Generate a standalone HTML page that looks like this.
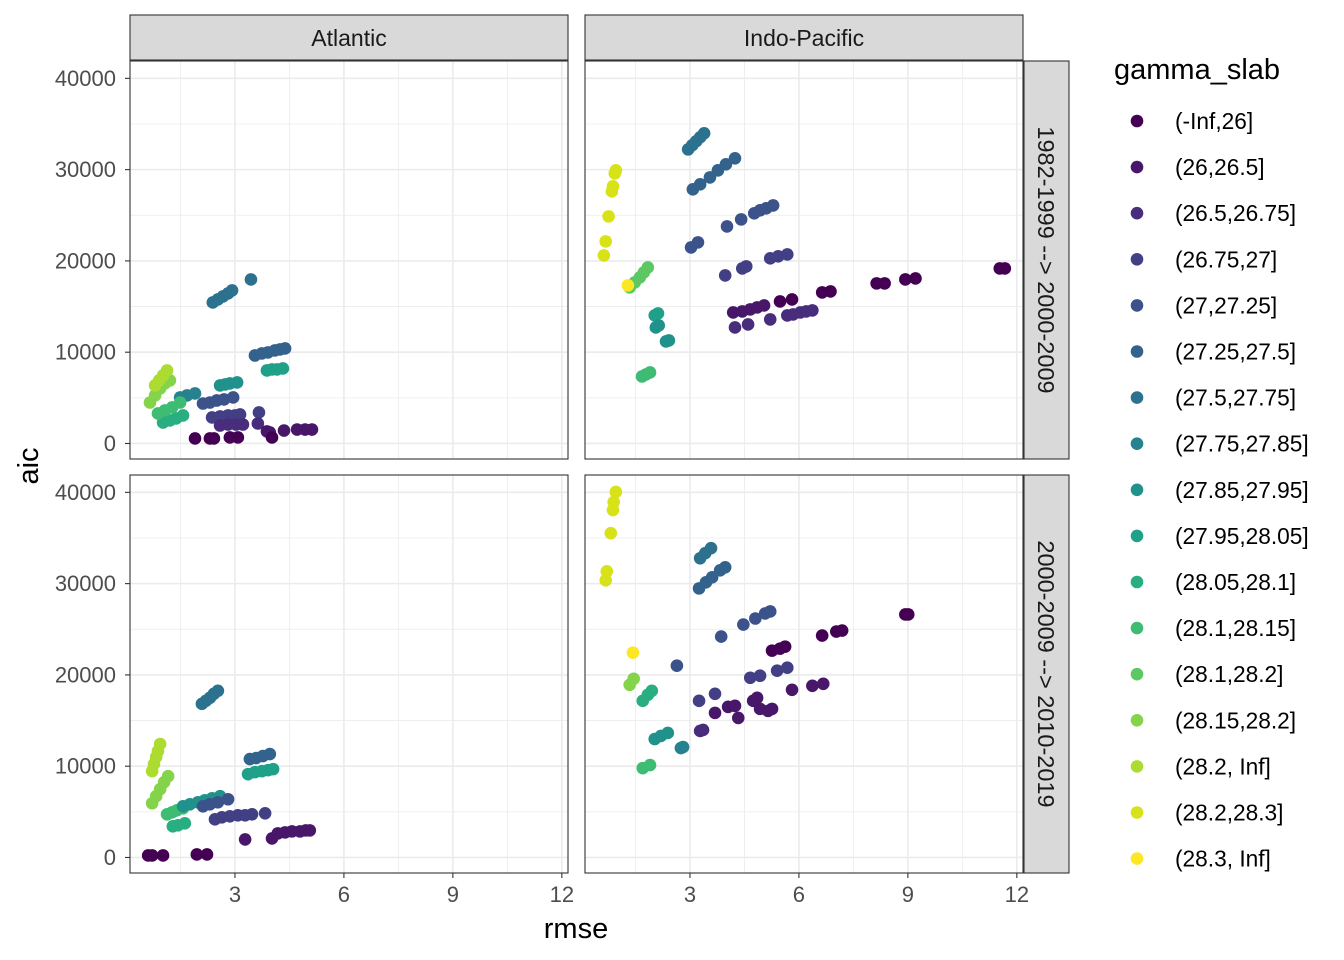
<!DOCTYPE html>
<html><head><meta charset="utf-8"><style>
body{margin:0;background:#fff;}
svg{display:block;font-family:"Liberation Sans",Arial,sans-serif;}
</style></head><body>
<svg id="chart" width="1344" height="960" xmlns="http://www.w3.org/2000/svg"></svg>
<script>
const levels=["(-Inf,26]","(26,26.5]","(26.5,26.75]","(26.75,27]","(27,27.25]","(27.25,27.5]","(27.5,27.75]","(27.75,27.85]","(27.85,27.95]","(27.95,28.05]","(28.05,28.1]","(28.1,28.15]","(28.1,28.2]","(28.15,28.2]","(28.2, Inf]","(28.2,28.3]","(28.3, Inf]"];
const colors=["#440154","#481769","#472D7B","#423F85","#3B528B","#33638D","#2C728E","#26828E","#21918C","#1FA088","#28AE80","#3FBC73","#5DC863","#84D44B","#ADDC30","#D8E219","#FDE725"];
const basins=["Atlantic","Indo-Pacific"];
const periods=["1982-1999 --> 2000-2009","2000-2009 --> 2010-2019"];
const xTicks=[3,6,9,12];
const yTicks=[0,10000,20000,30000,40000];
// each series: [group, x values, y values]
const atlTop=[
[6,[2.39,2.53,2.67,2.81,2.92,3.44],[15450,15780,16110,16440,16770,17970]],
[5,[3.55,3.74,3.91,4.10,4.24,4.38],[9640,9860,9970,10190,10300,10410]],
[9,[3.88,4.02,4.16,4.32],[8000,8110,8110,8220]],
[8,[2.59,2.73,2.86,3.06],[6360,6470,6580,6690]],
[4,[2.12,2.31,2.50,2.70,2.95],[4380,4490,4710,4820,5040]],
[7,[1.49,1.68,1.90],[5040,5260,5480]],
[3,[2.37,2.59,2.81,3.00,3.14,3.66],[2850,2960,3070,3070,3180,3400]],
[2,[2.59,2.81,3.03,3.22,3.63],[1970,2080,2080,2080,2190]],
[1,[3.88,3.96,4.35,4.71,4.93,5.12],[1320,1210,1420,1530,1530,1530]],
[0,[1.90,2.31,2.42,2.86,3.08,4.02],[550,550,550,660,660,660]],
[10,[1.02,1.21,1.38,1.57],[2300,2520,2740,3070]],
[11,[0.88,1.07,1.27,1.49],[3290,3620,3950,4490]],
[13,[0.66,0.80,0.94,1.07,1.21],[4490,5260,6030,6580,6910]],
[14,[0.80,0.91,1.02,1.13],[6360,6910,7450,8000]]];
const atlBot=[
[6,[2.09,2.20,2.31,2.42,2.53],[16830,17160,17490,17930,18260]],
[14,[0.72,0.77,0.83,0.88,0.94],[9460,10230,11000,11660,12430]],
[13,[0.72,0.83,0.94,1.05,1.16],[5940,6710,7480,8250,8910]],
[11,[1.13,1.27,1.40,1.57],[4730,4950,5170,5390]],
[10,[1.29,1.43,1.62],[3410,3520,3740]],
[8,[1.57,1.76,1.98,2.17,2.37,2.59],[5610,5830,6050,6270,6490,6710]],
[4,[2.12,2.31,2.53,2.81],[5610,5830,6050,6380]],
[3,[2.45,2.64,2.86,3.08,3.28,3.47,3.83],[4180,4400,4510,4620,4620,4730,4840]],
[5,[3.41,3.58,3.77,3.96],[10780,10890,11110,11330]],
[9,[3.36,3.55,3.74,3.91,4.05],[9130,9350,9460,9570,9680]],
[1,[4.18,4.38,4.57,4.79,4.95,5.06,4.02,3.28],[2640,2750,2860,2860,2970,2970,2090,1980]],
[0,[0.61,0.72,1.02,1.95,2.23],[220,220,220,330,330]]];
const ipTop=[
[15,[0.96,0.93,0.88,0.85,0.76,0.68,0.63],[29920,29590,28170,27620,24880,22140,20600]],
[12,[1.34,1.48,1.62,1.73,1.84],[17100,17650,18190,18740,19290]],
[16,[1.29],[17320]],
[9,[2.03,2.12],[14030,14250]],
[8,[2.06,2.14,2.34,2.42],[12710,12930,11180,11290]],
[11,[1.68,1.79,1.90],[7340,7560,7780]],
[6,[2.95,3.06,3.17,3.28,3.39],[32220,32660,33100,33540,33980]],
[5,[3.08,3.28,3.55,3.77,3.99,4.24],[27840,28390,29150,29920,30580,31240]],
[4,[3.03,3.22,4.02,4.41,4.77,4.93,5.10,5.29],[21480,22030,23780,24550,25210,25540,25760,26080]],
[3,[3.97,4.44,4.55,5.21,5.43,5.68],[18410,19180,19400,20280,20500,20710]],
[1,[4.19,4.44,4.66,4.85,5.04],[14360,14470,14690,14910,15120]],
[0,[5.48,5.81,6.64,6.87,8.14,8.36,8.93,9.21,11.53,11.67],[15560,15780,16550,16660,17540,17540,17970,18080,19180,19180]],
[2,[4.24,4.60,5.21,5.68,5.84,6.04,6.20,6.37],[12710,13040,13590,14030,14140,14360,14470,14580]]];
const ipBot=[
[15,[0.96,0.90,0.88,0.82,0.71,0.68],[40040,38940,38060,35530,31350,30360]],
[16,[1.43],[22440]],
[13,[1.34,1.45],[18920,19580]],
[10,[1.70,1.84,1.95],[17160,17820,18260]],
[8,[2.03,2.20,2.39],[12980,13310,13640]],
[7,[2.75,2.81],[11990,12100]],
[11,[1.70,1.90],[9790,10120]],
[6,[3.28,3.42,3.58],[32780,33330,33880]],
[5,[3.25,3.44,3.61,3.83,3.97],[29480,30140,30690,31460,31790]],
[4,[2.64,3.86,4.47,4.80,5.07,5.21],[21010,24200,25520,26180,26730,26950]],
[3,[3.25,3.69,4.66,4.93,5.40,5.68],[17160,17930,19690,19910,20460,20790]],
[2,[3.28,3.36],[13860,13970]],
[1,[3.69,4.05,4.24,4.33,4.74,4.85,4.93,5.15,5.26,5.81,6.37,6.67],[15840,16500,16610,15290,17160,17490,16280,16060,16280,18370,18810,19030]],
[0,[5.26,5.48,5.62,6.64,7.03,7.19,8.93,9.01],[22660,22880,23100,24310,24750,24860,26620,26620]]];

const NS="http://www.w3.org/2000/svg";
const svg=document.getElementById('chart');
function mk(tag,attrs,parent,text){const e=document.createElementNS(NS,tag);for(const k in attrs)e.setAttribute(k,attrs[k]);if(text!==undefined)e.textContent=text;(parent||svg).appendChild(e);return e;}
const X0=0.11,X1=12.17,Y0=-1700,Y1=41900;
const panels=[
{x:130,y:61,data:atlTop,b:0,p:0},{x:585,y:61,data:ipTop,b:1,p:0},
{x:130,y:475,data:atlBot,b:0,p:1},{x:585,y:475,data:ipBot,b:1,p:1}];
const PW=438,PH=398;
panels.forEach((P,pi)=>{
  const sx=v=>P.x+(v-X0)/(X1-X0)*PW;
  const sy=v=>P.y+PH-(v-Y0)/(Y1-Y0)*PH;
  const g=mk('g',{},svg);
  
  
  mk('rect',{x:P.x,y:P.y,width:PW,height:PH,fill:'#fff'},g);
  for(let i=0;i<xTicks.length;i++){const m=xTicks[i]-1.5;mk('line',{x1:sx(m),x2:sx(m),y1:P.y,y2:P.y+PH,stroke:'#ebebeb','stroke-width':0.8},g);}
  for(let i=0;i<yTicks.length;i++){const m=yTicks[i]+5000;if(m<Y1)mk('line',{x1:P.x,x2:P.x+PW,y1:sy(m),y2:sy(m),stroke:'#ebebeb','stroke-width':0.8},g);}
  xTicks.forEach(t=>mk('line',{x1:sx(t),x2:sx(t),y1:P.y,y2:P.y+PH,stroke:'#ebebeb','stroke-width':1.6},g));
  yTicks.forEach(t=>mk('line',{x1:P.x,x2:P.x+PW,y1:sy(t),y2:sy(t),stroke:'#ebebeb','stroke-width':1.6},g));
  P.data.forEach(s=>{
    const c=colors[s[0]];
    s[1].forEach((xv,k)=>{
      const pt=mk('circle',{cx:sx(xv),cy:sy(s[2][k]),r:6.3,fill:c},g);
      
      
    });
  });
  mk('rect',{x:P.x,y:P.y,width:PW,height:PH,fill:'none',stroke:'#333','stroke-width':1.1},g);
  if(P.b===0){
    yTicks.forEach(t=>{
      mk('line',{x1:P.x-5,x2:P.x,y1:sy(t),y2:sy(t),stroke:'#333','stroke-width':1.1},g);
      const tl=mk('text',{x:P.x-14,y:sy(t)+7.5,'text-anchor':'end','font-size':22,fill:'#4d4d4d'},g,String(t));
      
      
    });
  }
  if(P.p===1){
    xTicks.forEach(t=>{
      mk('line',{x1:sx(t),x2:sx(t),y1:P.y+PH,y2:P.y+PH+5,stroke:'#333','stroke-width':1.1},g);
      const tl=mk('text',{x:sx(t),y:P.y+PH+29,'text-anchor':'middle','font-size':22,fill:'#4d4d4d'},g,String(t));
      
      
    });
  }
  if(P.p===0){
    const st=mk('g',{},svg);
    
    
    mk('rect',{x:P.x,y:15,width:PW,height:45,fill:'#d9d9d9',stroke:'#333','stroke-width':1.1},st);
    mk('text',{x:P.x+PW/2,y:46,'text-anchor':'middle','font-size':23,fill:'#1a1a1a'},st,basins[P.b]);
  }
  if(P.b===1){
    const st=mk('g',{},svg);
    
    
    mk('rect',{x:1024,y:P.y,width:45,height:PH,fill:'#d9d9d9',stroke:'#333','stroke-width':1.1},st);
    mk('text',{x:1038,y:P.y+PH/2,'text-anchor':'middle','font-size':23.5,fill:'#1a1a1a',transform:`rotate(90 1038 ${P.y+PH/2})`},st,periods[P.p]);
  }
});
const xt=mk('text',{x:576,y:938,'text-anchor':'middle','font-size':29,fill:'#000'},svg,'rmse');

const yt=mk('text',{x:38,y:466,'text-anchor':'middle','font-size':29,fill:'#000',transform:'rotate(-90 38 466)'},svg,'aic');

const lg=mk('g',{},svg);

mk('text',{x:1114,y:79,'font-size':29,fill:'#000'},lg,'gamma_slab');
levels.forEach((l,i)=>{
  const y=121+i*46.1;
  const e=mk('g',{},lg);
  
  
  mk('circle',{cx:1137,cy:y,r:6.3,fill:colors[i]},e);
  mk('text',{x:1175,y:y+8,'font-size':22.7,fill:'#000'},e,l);
});
</script></body></html>
